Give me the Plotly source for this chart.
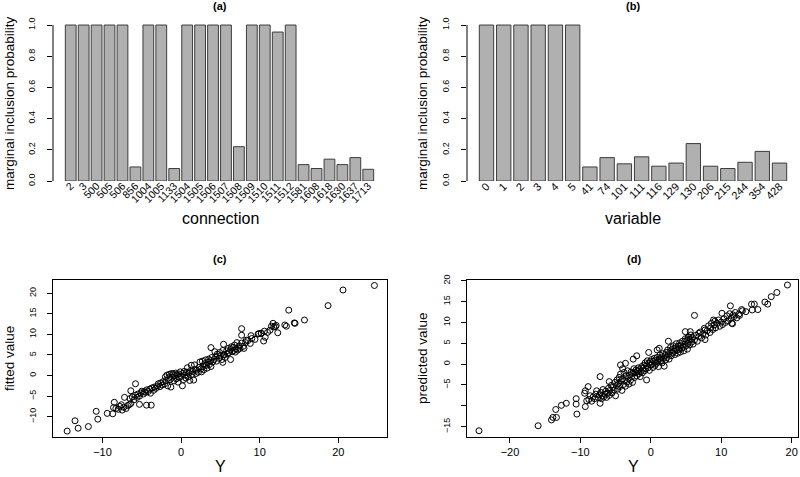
import plotly.graph_objects as go

# (a) marginal inclusion probability of each connection
conn_labels = ['2', '3', '500', '505', '506', '856', '1004', '1005', '1133',
               '1504', '1505', '1506', '1507', '1508', '1509', '1510', '1511',
               '1512', '1581', '1608', '1618', '1630', '1637', '1713']
conn_prob = [1.0, 1.0, 1.0, 1.0, 1.0, 0.09, 1.0, 1.0, 0.08, 1.0, 1.0, 1.0,
             1.0, 0.22, 1.0, 1.0, 0.955, 1.0, 0.105, 0.08, 0.14, 0.105,
             0.15, 0.075]

# (b) marginal inclusion probability of each variable
var_labels = ['0', '1', '2', '3', '4', '5', '41', '74', '101', '111', '116',
              '129', '130', '206', '215', '244', '354', '428']
var_prob = [1.0, 1.0, 1.0, 1.0, 1.0, 1.0, 0.09, 0.15, 0.11, 0.155, 0.095,
            0.115, 0.24, 0.095, 0.08, 0.12, 0.19, 0.115]

# (c) observed Y vs fitted value
fit_points = [
    (-14.5, -13.5), (-13.5, -11.0), (-13.1, -12.8), (-11.8, -12.4),
    (-10.8, -8.7), (-10.6, -10.6), (-9.4, -9.2), (-8.7, -9.3), (-8.5, -6.5),
    (-7.2, -5.3), (-7.6, -7.1), (-5.8, -2.0), (-6.4, -3.7), (-4.4, -7.2),
    (-3.8, -7.2), (-5.3, -7.0), (0.17, -2.5), (7.7, 11.4), (7.7, 9.8),
    (13.7, 15.9), (18.7, 17.0), (20.6, 20.8), (24.6, 21.9), (15.7, 13.5),
    (14.4, 12.8), (14.5, 12.7), (13.2, 12.3), (13.4, 12.0), (11.7, 12.7),
    (11.8, 11.8), (12.3, 10.4), (10.5, 8.4), (10.7, 9.3), (9.9, 10.2),
    (10.2, 10.2), (8.9, 9.7), (8.3, 8.6), (5.4, 5.1), (5.4, 7.6), (3.8, 6.8),
    (5.3, 3.2), (6.3, 3.9),
    (-8.6, -7.8), (-8.3, -8.0), (-8.0, -8.2), (-7.8, -7.5), (-7.5, -8.4),
    (-7.3, -7.7), (-7.0, -8.0), (-6.8, -7.3), (-6.6, -7.1), (-6.4, -6.8),
    (-6.5, -5.6), (-6.2, -5.2), (-6.0, -5.9), (-5.8, -4.8), (-5.6, -5.3),
    (-5.5, -4.5), (-5.3, -5.0), (-5.1, -4.2), (-5.0, -3.8), (-4.8, -4.5),
    (-4.7, -3.9), (-4.5, -4.1), (-4.4, -3.5), (-4.2, -3.9), (-4.0, -3.3),
    (-3.9, -4.3), (-3.7, -3.0), (-3.5, -3.6), (-3.4, -2.8), (-3.2, -3.1),
    (-3.0, -2.5), (-2.9, -2.0), (-2.7, -2.7), (-2.6, -1.8), (-2.4, -2.3),
    (-2.3, -1.5), (-2.1, -2.0), (-2.0, -0.3), (-1.9, -1.2), (-1.8, 0.1),
    (-1.7, -2.5), (-1.6, -0.6), (-1.5, 0.3), (-1.4, -1.0), (-1.3, -2.8),
    (-1.2, 0.5), (-1.1, -0.4), (-1.0, 0.4), (-0.9, -1.3), (-0.8, 0.0),
    (-0.7, 0.6), (-0.6, -0.8), (-0.5, 0.2), (-0.4, -1.6), (-0.3, 0.4),
    (-0.2, -0.5), (-0.1, 0.9), (0.0, -0.2), (0.2, 0.5), (0.3, -1.0),
    (0.4, 1.0), (0.5, 0.1), (0.6, -0.6), (0.7, 0.8), (0.8, 1.9), (0.9, -0.3),
    (1.0, 0.6), (1.1, -1.2), (1.2, 1.2), (1.3, 2.5), (1.4, 0.3), (1.5, 1.0),
    (1.6, -1.1), (1.7, 2.6), (1.8, 1.5), (1.9, 0.5), (2.0, 1.3), (2.2, 0.8),
    (2.3, 2.0), (2.4, 3.3), (2.5, 1.6), (2.6, 0.9), (2.7, 3.5), (2.8, 2.2),
    (2.9, 1.4), (3.0, 2.9), (3.1, 3.8), (3.2, 2.5), (3.3, 1.8), (3.4, 3.2),
    (3.5, 4.0), (3.6, 2.7), (3.7, 3.6), (3.8, 2.2), (3.9, 4.4), (4.0, 3.3),
    (4.2, 3.9), (4.3, 5.8), (4.4, 4.6), (4.5, 3.5), (4.6, 5.2), (4.8, 4.2),
    (4.9, 5.6), (5.0, 4.8), (5.2, 3.9), (5.3, 6.1), (5.5, 5.0), (5.6, 4.4),
    (5.8, 6.0), (5.9, 5.3), (6.0, 6.6), (6.1, 5.6), (6.3, 6.3), (6.4, 7.0),
    (6.5, 5.8), (6.6, 6.8), (6.7, 6.1), (6.8, 7.4), (6.9, 5.7), (7.0, 6.5),
    (7.1, 8.0), (7.2, 6.2), (7.4, 7.2), (7.5, 6.6), (7.7, 7.9), (7.9, 7.1),
    (8.0, 6.6), (8.2, 8.0), (8.5, 8.5), (8.8, 7.8), (9.0, 9.0), (9.4, 8.8),
    (9.8, 10.1), (10.2, 10.3), (10.6, 10.8), (11.0, 10.5), (11.3, 11.0),
    (11.5, 12.0), (12.0, 11.9), (12.1, 12.2),
]

# (d) observed Y vs predicted value
pred_points = [
    (-24.4, -16.0), (-16.0, -14.8), (-14.1, -13.4), (-13.9, -12.8),
    (-13.5, -10.9), (-13.4, -12.8), (-12.7, -9.9), (-12.0, -9.4),
    (-10.6, -8.3), (-10.6, -9.6), (-10.5, -12.0), (-9.3, -10.2), (-9.4, -7.0),
    (-9.3, -6.4), (-8.9, -5.4), (-9.1, -8.8), (-7.2, -3.0), (-7.2, -9.4),
    (-5.9, -4.2), (-4.3, -0.2), (-4.0, -1.1), (-3.6, 0.2), (-2.5, 1.2),
    (-2.0, 2.0), (-0.6, -3.8), (-0.3, 2.8), (0.9, 3.4), (1.2, 3.8),
    (2.5, 5.5), (6.2, 11.7), (5.3, 6.4), (4.9, 7.8), (5.6, 7.8), (11.3, 14.0),
    (14.3, 14.4), (14.7, 14.4), (14.4, 13.0), (15.2, 13.1), (16.2, 14.9),
    (16.6, 14.4), (17.1, 16.2), (17.9, 17.2), (19.4, 19.0), (12.9, 13.1),
    (13.5, 12.6), (12.5, 12.0), (11.7, 11.8), (11.5, 9.8), (10.1, 12.2),
    (8.9, 10.6), (7.7, 8.2), (7.7, 5.9), (6.8, 7.4),
    (-8.8, -8.5), (-8.6, -7.6), (-8.4, -8.9), (-8.2, -7.9), (-8.0, -8.3),
    (-7.8, -7.2), (-7.7, -6.4), (-7.5, -8.0), (-7.3, -7.4), (-7.1, -6.8),
    (-7.0, -8.3), (-6.9, -7.6), (-6.8, -6.1), (-6.7, -7.9), (-6.5, -7.2),
    (-6.4, -6.5), (-6.3, -8.0), (-6.1, -7.0), (-6.0, -5.8), (-5.9, -7.5),
    (-5.8, -6.3), (-5.6, -5.1), (-5.5, -6.9), (-5.4, -5.6), (-5.2, -6.2),
    (-5.1, -4.4), (-5.0, -7.6), (-4.9, -5.2), (-4.8, -3.8), (-4.7, -6.0),
    (-4.6, -4.6), (-4.5, -3.2), (-4.4, -5.4), (-4.3, -2.4), (-4.2, -4.0),
    (-4.1, -6.3), (-4.0, -3.5), (-3.9, -4.9), (-3.8, -2.0), (-3.7, -3.9),
    (-3.6, -5.3), (-3.5, -2.8), (-3.4, -4.3), (-3.3, -1.6), (-3.2, -3.4),
    (-3.1, -4.8), (-3.0, -2.6), (-2.9, -3.9), (-2.8, -1.9), (-2.7, -3.0),
    (-2.6, -4.4), (-2.5, -2.2), (-2.4, -1.1), (-2.3, -3.2), (-2.2, -2.0),
    (-2.1, -1.4), (-2.0, -2.8), (-1.9, -1.7), (-1.8, -0.9), (-1.7, -2.3),
    (-1.6, -1.3), (-1.5, -3.0), (-1.4, -1.8), (-1.3, -0.6), (-1.2, -2.1),
    (-1.1, -1.0), (-1.0, -0.3), (-0.9, -1.6), (-0.8, 0.3), (-0.7, -1.1),
    (-0.6, -0.4), (-0.5, 0.8), (-0.4, -0.9), (-0.3, 0.2), (-0.2, -1.5),
    (-0.1, 0.6), (0.0, -0.2), (0.1, 1.1), (0.2, 0.0), (0.3, -0.8), (0.4, 0.7),
    (0.5, 1.4), (0.6, -0.3), (0.7, 0.9), (0.8, 0.2), (0.9, 1.6), (1.0, 0.5),
    (1.1, -0.6), (1.2, 1.2), (1.3, 2.2), (1.4, 0.8), (1.5, 1.7), (1.6, 0.3),
    (1.7, 2.5), (1.8, 1.4), (1.9, -0.5), (2.0, 2.0), (2.1, 1.0), (2.2, 2.8),
    (2.3, 1.6), (2.4, 3.4), (2.5, 2.3), (2.6, 1.2), (2.7, 3.0), (2.8, 4.0),
    (2.9, 2.0), (3.0, 3.5), (3.1, 2.7), (3.2, 4.4), (3.3, 3.1), (3.4, 2.3),
    (3.5, 3.9), (3.6, 4.9), (3.7, 3.3), (3.8, 2.6), (3.9, 4.3), (4.0, 3.6),
    (4.1, 5.1), (4.2, 2.9), (4.3, 4.6), (4.4, 3.8), (4.5, 5.5), (4.6, 4.1),
    (4.7, 3.2), (4.8, 4.8), (4.9, 6.1), (5.0, 4.4), (5.1, 5.7), (5.2, 3.6),
    (5.3, 5.0), (5.4, 6.5), (5.5, 4.6), (5.6, 5.9), (5.7, 7.0), (5.8, 5.3),
    (5.9, 6.4), (6.0, 4.8), (6.2, 5.8), (6.4, 6.9), (6.6, 5.5), (6.8, 6.6),
    (7.0, 7.7), (7.2, 6.3), (7.4, 7.3), (7.6, 8.6), (7.8, 7.0), (8.0, 8.0),
    (8.2, 9.2), (8.4, 7.6), (8.5, 8.7), (8.6, 9.8), (8.8, 8.3), (9.0, 9.4),
    (9.1, 10.3), (9.2, 8.7), (9.4, 9.8), (9.6, 10.6), (9.8, 9.1),
    (10.0, 10.1), (10.2, 9.5), (10.4, 10.9), (10.6, 10.0), (10.8, 11.6),
    (11.0, 10.4), (11.2, 12.1), (11.4, 11.0), (11.6, 9.7), (11.8, 11.4),
    (12.0, 12.4), (12.2, 11.1), (12.6, 11.7), (13.0, 12.8),
]

W, H = 800, 477
FONT = 'Liberation Sans, Arial, Helvetica, sans-serif'


def px_x(p):
    return p / W


def px_y(p):
    return 1 - p / H


bar_style = dict(color='#b0b0b0', line=dict(color='#3c3c3c', width=1))
point_style = dict(symbol='circle-open', size=6, color='black',
                   line=dict(width=1, color='black'))

fig = go.Figure()
fig.add_trace(go.Bar(x=conn_labels, y=conn_prob, marker=bar_style,
                     xaxis='x', yaxis='y'))
fig.add_trace(go.Bar(x=var_labels, y=var_prob, marker=bar_style,
                     xaxis='x2', yaxis='y2'))
fig.add_trace(go.Scatter(x=[p[0] for p in fit_points],
                         y=[p[1] for p in fit_points],
                         mode='markers', marker=point_style,
                         xaxis='x3', yaxis='y3'))
fig.add_trace(go.Scatter(x=[p[0] for p in pred_points],
                         y=[p[1] for p in pred_points],
                         mode='markers', marker=point_style,
                         xaxis='x4', yaxis='y4'))

# every bar keeps its name, even where the names crowd each other
bar_x = dict(type='category', tickmode='linear', tick0=0, dtick=1,
             showline=False, ticks='', showgrid=False, zeroline=False,
             tickangle=-45, automargin=False, ticklabelstandoff=-4)
prob_ticks = [0, 0.2, 0.4, 0.6, 0.8, 1.0]
bar_y = dict(range=[0, 1.04], tickvals=prob_ticks,
             ticktext=['%.1f' % v for v in prob_ticks], ticks='outside',
             ticklen=5, tickcolor='black', tickangle=-90, showgrid=False,
             zeroline=False, showline=False,
             tickfont=dict(size=9, color='black'),
             ticklabelstandoff=8, automargin=False)
box = dict(showline=True, mirror=True, linecolor='black', linewidth=1,
           ticks='outside', ticklen=5, tickcolor='black', showgrid=False,
           zeroline=False, automargin=False)

fig.update_layout(
    template='none',
    width=W, height=H,
    margin=dict(l=0, r=0, t=0, b=0),
    paper_bgcolor='white', plot_bgcolor='white',
    showlegend=False, bargap=0.167,
    font=dict(family=FONT, color='black'),
    xaxis=dict(bar_x, domain=[px_x(53), px_x(386)], range=[-1.37, 24.37],
               tickfont=dict(size=10.5, color='black'), anchor='y'),
    yaxis=dict(bar_y, domain=[px_y(181), px_y(18.8)], anchor='x'),
    xaxis2=dict(bar_x, domain=[px_x(467), px_x(799)], range=[-1.13, 18.13],
                tickfont=dict(size=11, color='black'), anchor='y2'),
    yaxis2=dict(bar_y, domain=[px_y(181), px_y(18.8)], anchor='x2'),
    xaxis3=dict(box, domain=[px_x(53), px_x(387)], range=[-16.3, 26.2],
                tickvals=[-10, 0, 10, 20],
                tickfont=dict(size=11, color='black'), anchor='y3'),
    yaxis3=dict(box, domain=[px_y(437), px_y(280)], range=[-14.94, 23.23],
                tickvals=[-10, -5, 0, 5, 10, 15, 20], tickangle=-90,
                tickfont=dict(size=9, color='black'), ticklabelstandoff=7,
                anchor='x3'),
    xaxis4=dict(box, domain=[px_x(467), px_x(798)], range=[-26.1, 20.9],
                tickvals=[-20, -10, 0, 10, 20],
                tickfont=dict(size=11, color='black'), anchor='y4'),
    yaxis4=dict(box, domain=[px_y(437), px_y(280)], range=[-17.5, 20.2],
                tickvals=[-15, -10, -5, 0, 5, 10, 15, 20],
                ticktext=['\u221215', '', '\u22125', '0', '5', '10', '15',
                          '20'],
                tickangle=-90, tickfont=dict(size=9, color='black'),
                ticklabelstandoff=7, anchor='x4'),
)

# R draws the barplot y axis only over the tick range
for xa, ya in [('x', 'y'), ('x2', 'y2')]:
    fig.add_shape(type='line', xref=xa + ' domain', yref=ya, x0=0, x1=0,
                  y0=0, y1=1, line=dict(color='black', width=1))

notes = [
    ('(a)', 220, 6, 11, 0, True), ('(b)', 633, 6, 11, 0, True),
    ('(c)', 220, 259, 11, 0, True), ('(d)', 634, 259, 11, 0, True),
    ('connection', 220, 218, 16, 0, False),
    ('variable', 633, 218, 16, 0, False),
    ('Y', 220, 466, 16, 0, False), ('Y', 633, 466, 16, 0, False),
    ('marginal inclusion probability', 9, 103, 13.5, -90, False),
    ('marginal inclusion probability', 422, 103, 13.5, -90, False),
    ('fitted value', 9, 359, 13.5, -90, False),
    ('predicted value', 422, 358, 13.5, -90, False),
]
for text, x, y, size, angle, bold in notes:
    fig.add_annotation(text='<b>%s</b>' % text if bold else text,
                       x=px_x(x), y=px_y(y), xref='paper', yref='paper',
                       showarrow=False, textangle=angle,
                       font=dict(size=size, color='black'),
                       xanchor='center', yanchor='middle')

# the page body has an 8px default margin; drop it so the figure fills
# the window exactly
fig.write_html('out.html', config={'displayModeBar': False},
               post_script="document.body.style.margin='0';")
